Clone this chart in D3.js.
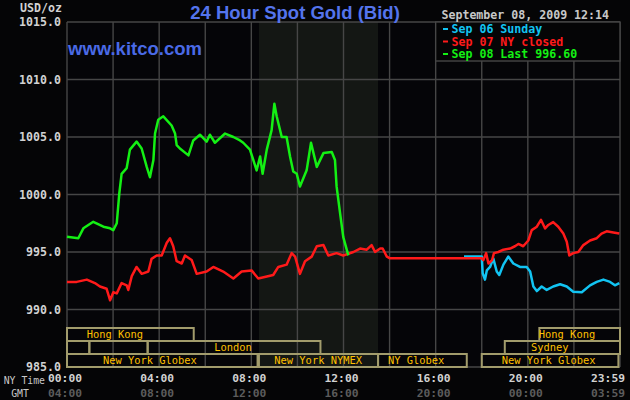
<!DOCTYPE html>
<html>
<head>
<meta charset="utf-8">
<script src="https://cdn.jsdelivr.net/npm/d3@7"></script>
<style>
  html, body { margin: 0; padding: 0; background: #050506; }
  svg { display: block; }
</style>
</head>
<body>
<div id="chart"></div>
<script>
const width = 630;
const height = 400;

// price series: [hour of NY day, USD/oz]
const sep06 = [
  [17.23, 994.6], [18.0, 994.6], [18.04, 993.15], [18.14, 992.6], [18.22, 993.4], [18.36, 993.7],
  [18.5, 994.45], [18.65, 993.3], [18.76, 993.0], [18.94, 993.9], [19.15, 994.6], [19.37, 994.0],
  [19.66, 993.7], [19.95, 993.7], [20.1, 993.3], [20.24, 992.0], [20.39, 991.6], [20.6, 992.0],
  [20.82, 991.7], [21.1, 992.0], [21.4, 992.2], [21.69, 992.0], [21.97, 991.55], [22.34, 991.5],
  [22.7, 992.1], [22.99, 992.4], [23.28, 992.6], [23.57, 992.4], [23.78, 992.1], [23.97, 992.3]
];

const sep07 = [
  [0, 992.4], [0.42, 992.4], [0.86, 992.6], [1.21, 992.3], [1.43, 992.0], [1.72, 991.8],
  [1.87, 990.8], [2.01, 991.5], [2.16, 991.4], [2.37, 992.3], [2.59, 992.1], [2.66, 991.7],
  [2.81, 992.9], [3.02, 993.7], [3.24, 993.1], [3.53, 993.3], [3.67, 994.4], [3.89, 994.7],
  [4.11, 994.7], [4.33, 995.8], [4.47, 996.2], [4.61, 995.5], [4.76, 994.2], [4.98, 994.0],
  [5.12, 994.7], [5.41, 994.3], [5.63, 993.1], [6.06, 993.3], [6.35, 993.7], [6.78, 993.3],
  [7.22, 992.7], [7.58, 993.3], [8.01, 993.4], [8.3, 992.7], [8.95, 993.0], [9.17, 993.7],
  [9.53, 993.9], [9.75, 994.9], [9.9, 994.6], [10.11, 993.1], [10.33, 994.2], [10.62, 994.6],
  [10.84, 995.5], [11.13, 995.6], [11.34, 994.7], [11.7, 994.9], [11.99, 994.7], [12.43, 995.0],
  [12.72, 995.3], [13.01, 995.2], [13.22, 995.6], [13.37, 995.0], [13.59, 995.3], [13.7, 995.3],
  [13.88, 994.6], [14.02, 994.45], [18.0, 994.45], [18.07, 994.3], [18.19, 994.9], [18.29, 994.0],
  [18.45, 994.3], [18.53, 994.9], [18.72, 995.0], [18.94, 995.2], [19.23, 995.3], [19.44, 995.5],
  [19.59, 995.7], [19.8, 995.5], [20.02, 996.0], [20.17, 996.9], [20.39, 997.2], [20.57, 997.8],
  [20.75, 997.05], [20.89, 997.35], [21.1, 997.6], [21.32, 997.2], [21.54, 996.6], [21.69, 995.9],
  [21.8, 994.7], [21.97, 994.9], [22.19, 995.0], [22.41, 995.6], [22.7, 996.0], [22.99, 996.2],
  [23.2, 996.6], [23.42, 996.8], [23.71, 996.7], [23.97, 996.6]
];

const sep08 = [
  [0, 996.33], [0.49, 996.2], [0.71, 997.06], [1.14, 997.63], [1.58, 997.2], [1.87, 997.06],
  [2.01, 996.9], [2.16, 997.5], [2.27, 1000.1], [2.37, 1001.8], [2.59, 1002.3], [2.73, 1003.9],
  [3.02, 1004.6], [3.24, 1004.0], [3.46, 1002.4], [3.6, 1001.5], [3.75, 1003.0], [3.82, 1005.3],
  [3.96, 1006.5], [4.18, 1006.8], [4.54, 1006.0], [4.69, 1005.3], [4.76, 1004.3], [4.9, 1004.0],
  [5.27, 1003.4], [5.48, 1004.7], [5.77, 1005.2], [6.06, 1004.6], [6.2, 1005.2], [6.42, 1004.5],
  [6.86, 1005.3], [7.22, 1005.0], [7.51, 1004.7], [7.65, 1004.5], [7.94, 1003.9], [8.23, 1002.1],
  [8.38, 1003.3], [8.49, 1001.8], [8.67, 1003.9], [8.88, 1005.6], [9.0, 1007.9], [9.1, 1006.8],
  [9.32, 1005.0], [9.53, 1005.0], [9.68, 1003.3], [9.82, 1002.0], [9.97, 1001.8], [10.11, 1000.7],
  [10.4, 1002.1], [10.59, 1004.5], [10.84, 1002.4], [11.13, 1003.6], [11.49, 1003.7], [11.63, 1003.0],
  [11.7, 1000.7], [11.85, 998.4], [11.99, 996.3], [12.14, 995.2], [12.21, 994.7]
];

// y axis ticks
const yTicks = [985, 990, 995, 1000, 1005, 1010, 1015];
// x axis ticks: NY hour, NY label, GMT label
const xTickHours = [0, 4, 8, 12, 16, 20, 24];
const nyLabels = ["00:00", "04:00", "08:00", "12:00", "16:00", "20:00", "23:59"];
const gmtLabels = ["04:00", "08:00", "12:00", "16:00", "20:00", "00:00", "03:59"];

// NYMEX floor hours (shaded)
const nymexHours = [8.33, 13.5];

// market sessions: row, start hour, end hour, label, label centre hour
const sessionRows = [0, 1, 1, 1, 2, 2, 2, 2, 1, 0];
const sessionStart = [0, 0, 0.97, 3.5, 0, 8.33, 13.5, 18.0, 19.0, 20.5];
const sessionEnd = [5.5, 0.97, 3.5, 11.0, 8.27, 13.5, 17.35, 23.93, 24, 24];
const sessionLabels = ["Hong Kong", "", "", "London", "New York Globex", "New York NYMEX",
  "NY Globex", "New York Globex", "Sydney", "Hong Kong"];
const sessionLabelAt = [2.08, 0, 0, 7.2, 3.6, 10.9, 15.15, 20.9, 20.95, 21.7];

const legendLabels = ["Sep 06 Sunday", "Sep 07 NY closed", "Sep 08 Last 996.60"];
const legendColors = ["#12c4f2", "#ff1a1a", "#14f014"];

const x = d3.scaleLinear().domain([0, 24]).range([67, 620]);
const y = d3.scaleLinear().domain([985, 1015]).range([367, 22]);

const mono = "'DejaVu Sans Mono', monospace";
const sans = "'Liberation Sans', Arial, sans-serif";

const svg = d3.select("#chart").append("svg")
  .attr("width", width)
  .attr("height", height);

svg.append("rect").attr("width", width).attr("height", height).attr("fill", "#050506");

// plot background and NYMEX shading
svg.append("rect")
  .attr("x", x(0)).attr("y", y(1015))
  .attr("width", x(24) - x(0)).attr("height", y(985) - y(1015))
  .attr("fill", "#050508");
svg.append("rect")
  .attr("x", x(nymexHours[0])).attr("y", y(1015))
  .attr("width", x(nymexHours[1]) - x(nymexHours[0])).attr("height", y(985) - y(1015))
  .attr("fill", "#141714");

// grid
const grid = svg.append("g").attr("stroke", "#464646").attr("stroke-width", 1.4);
grid.selectAll("line.h").data(yTicks).join("line")
  .attr("x1", x(0)).attr("x2", x(24))
  .attr("y1", d => y(d)).attr("y2", d => y(d));
grid.selectAll("line.v").data(d3.range(0, 25, 2)).join("line")
  .attr("x1", d => x(d)).attr("x2", d => x(d))
  .attr("y1", y(1015)).attr("y2", y(985));

// y labels
svg.append("g").selectAll("text").data(yTicks).join("text")
  .attr("x", 61).attr("y", d => y(d))
  .attr("dy", "0.36em")
  .attr("text-anchor", "end")
  .attr("font-family", mono).attr("font-size", 11.6).attr("font-weight", "bold")
  .attr("fill", "#d2d2d2")
  .text(d => d3.format(".1f")(d));

svg.append("text")
  .attr("x", 41).attr("y", 8).attr("dy", "0.36em")
  .attr("text-anchor", "middle")
  .attr("font-family", mono).attr("font-size", 11.6).attr("font-weight", "bold")
  .attr("fill", "#d2d2d2")
  .text("USD/oz");

// sessions
const rowTop = [328, 341, 354];
const rowH = 13;
const sess = svg.append("g");
sessionRows.forEach((r, i) => {
  sess.append("rect")
    .attr("x", x(sessionStart[i])).attr("y", rowTop[r])
    .attr("width", x(sessionEnd[i]) - x(sessionStart[i])).attr("height", rowH)
    .attr("fill", "none").attr("stroke", "#a29c6c").attr("stroke-width", 2);
  if (sessionLabels[i]) {
    sess.append("text")
      .attr("x", x(sessionLabelAt[i])).attr("y", rowTop[r] + rowH / 2)
      .attr("dy", "0.38em").attr("text-anchor", "middle")
      .attr("font-family", mono).attr("font-size", 10.4)
      .attr("fill", "#ffc000")
      .text(sessionLabels[i]);
  }
});

// price lines
const line = d3.line().x(d => x(d[0])).y(d => y(d[1]));
[[sep06, legendColors[0]], [sep07, legendColors[1]], [sep08, legendColors[2]]].forEach(([data, color]) => {
  svg.append("path")
    .datum(data)
    .attr("d", line)
    .attr("fill", "none")
    .attr("stroke", color)
    .attr("stroke-width", 2.5)
    .attr("stroke-linejoin", "round");
});

// legend box
svg.append("rect")
  .attr("x", x(16)).attr("y", y(1015))
  .attr("width", x(24) - x(16)).attr("height", 39)
  .attr("fill", "#050506").attr("stroke", "#464646").attr("stroke-width", 1.4);
const leg = svg.append("g").selectAll("g").data(legendLabels).join("g")
  .attr("transform", (d, i) => `translate(0,${29 + i * 12.5})`);
leg.append("line")
  .attr("x1", 443).attr("x2", 448).attr("y1", 0).attr("y2", 0)
  .attr("stroke", (d, i) => legendColors[i]).attr("stroke-width", 2);
leg.append("text")
  .attr("x", 451.5).attr("dy", "0.36em")
  .attr("font-family", mono).attr("font-size", 11.6).attr("font-weight", "bold")
  .attr("fill", (d, i) => legendColors[i])
  .text(d => d);

// header texts
svg.append("text")
  .attr("x", 295).attr("y", 19)
  .attr("text-anchor", "middle")
  .attr("font-family", sans).attr("font-size", 18.5).attr("font-weight", "bold")
  .attr("fill", "#5474ec")
  .text("24 Hour Spot Gold (Bid)");

svg.append("text")
  .attr("x", 68).attr("y", 55)
  .attr("font-family", sans).attr("font-size", 18.5).attr("font-weight", "bold")
  .attr("fill", "#4a6ae6")
  .text("www.kitco.com");

svg.append("text")
  .attr("x", 609).attr("y", 15).attr("dy", "0.36em")
  .attr("text-anchor", "end")
  .attr("font-family", mono).attr("font-size", 11.6).attr("font-weight", "bold")
  .attr("fill", "#c8c8c8")
  .text("September 08, 2009 12:14");

// x axis labels
const xl = svg.append("g").attr("font-family", mono).attr("font-size", 11.3).attr("font-weight", "bold");
xl.selectAll("text.ny").data(xTickHours).join("text")
  .attr("x", d => d === 24 ? 625 : x(d) - 2).attr("y", 378).attr("dy", "0.36em")
  .attr("text-anchor", d => d === 24 ? "end" : "middle")
  .attr("fill", "#d2d2d2")
  .text((d, i) => nyLabels[i]);
xl.selectAll("text.gmt").data(xTickHours).join("text")
  .attr("x", d => d === 24 ? 625 : x(d) - 2).attr("y", 393).attr("dy", "0.36em")
  .attr("text-anchor", d => d === 24 ? "end" : "middle")
  .attr("fill", "#5c5c5c")
  .text((d, i) => gmtLabels[i]);

svg.append("text")
  .attr("x", 45).attr("y", 380).attr("dy", "0.36em").attr("text-anchor", "end")
  .attr("font-family", mono).attr("font-size", 9.8).attr("fill", "#c8c8c8")
  .text("NY Time");
svg.append("text")
  .attr("x", 20).attr("y", 393).attr("dy", "0.36em").attr("text-anchor", "middle")
  .attr("font-family", mono).attr("font-size", 9.8).attr("fill", "#c8c8c8")
  .text("GMT");
</script>
</body>
</html>
